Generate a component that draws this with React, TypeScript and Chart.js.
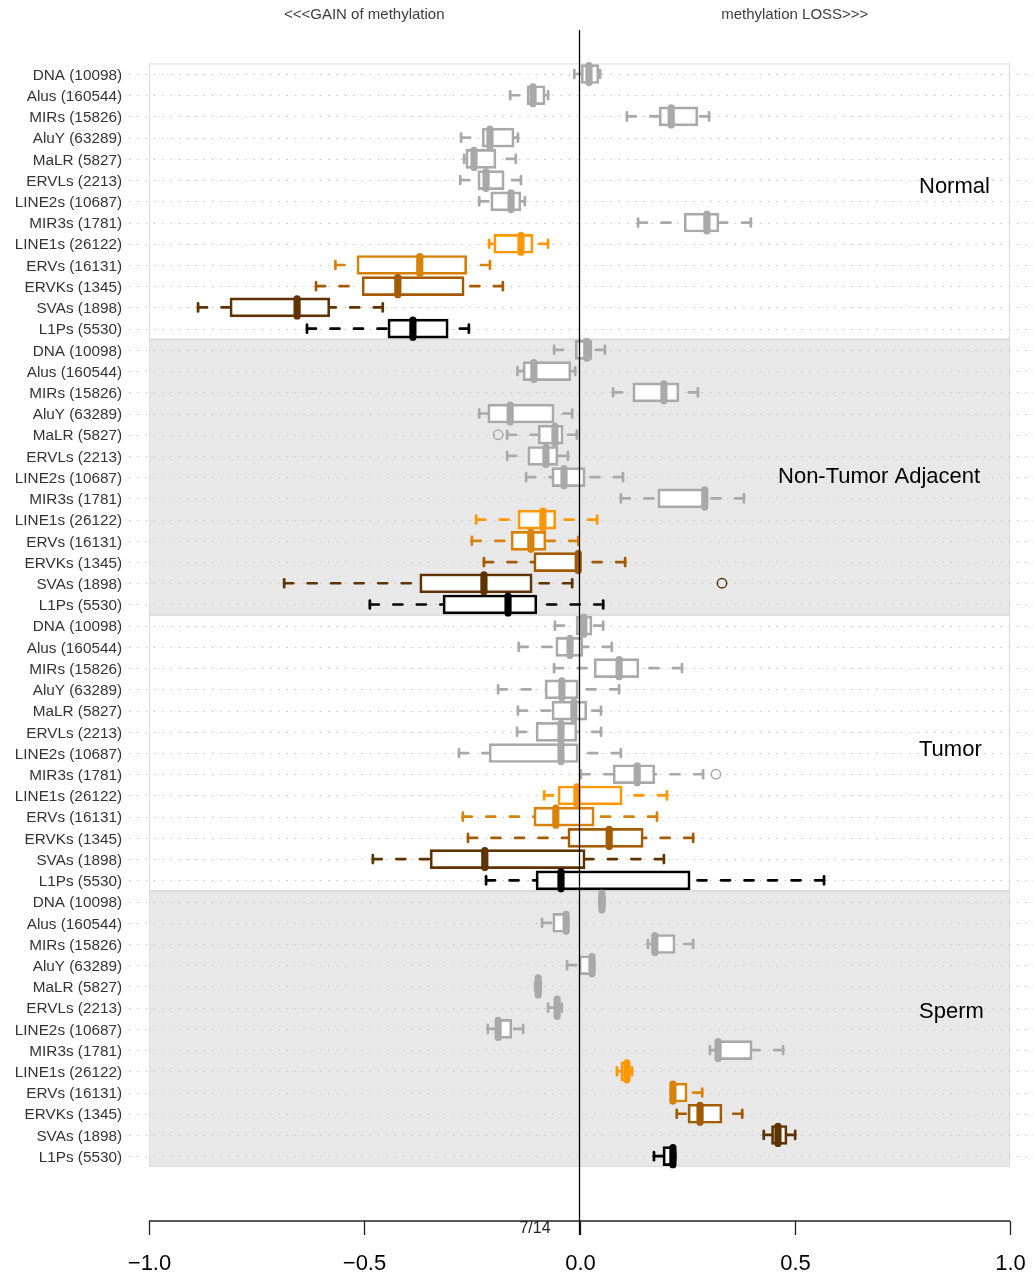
import React, { useEffect, useRef } from 'react';
import { Chart, registerables } from 'chart.js';

Chart.register(...registerables);

// ---------------- DATA ----------------
const categories = [
  'DNA (10098)',
  'Alus (160544)',
  'MIRs (15826)',
  'AluY (63289)',
  'MaLR (5827)',
  'ERVLs (2213)',
  'LINE2s (10687)',
  'MIR3s (1781)',
  'LINE1s (26122)',
  'ERVs (16131)',
  'ERVKs (1345)',
  'SVAs (1898)',
  'L1Ps (5530)',
];

const groups = ['Normal', 'Non-Tumor Adjacent', 'Tumor', 'Sperm'];

// each entry: [min (lower whisker), q1, median, q3, max (upper whisker)]
const normalStats = [
  [-0.012, 0.004, 0.022, 0.045, 0.048],
  [-0.161, -0.122, -0.108, -0.080, -0.073],
  [0.110, 0.185, 0.213, 0.275, 0.301],
  [-0.275, -0.226, -0.208, -0.152, -0.143],
  [-0.268, -0.264, -0.245, -0.194, -0.148],
  [-0.277, -0.236, -0.217, -0.175, -0.136],
  [-0.233, -0.206, -0.159, -0.136, -0.127],
  [0.136, 0.243, 0.296, 0.324, 0.398],
  [-0.210, -0.199, -0.136, -0.108, -0.073],
  [-0.567, -0.517, -0.371, -0.262, -0.208],
  [-0.612, -0.505, -0.422, -0.268, -0.178],
  [-0.886, -0.812, -0.656, -0.580, -0.457],
  [-0.633, -0.445, -0.387, -0.305, -0.257],
];

const nonTumorStats = [
  [-0.059, -0.010, 0.017, 0.029, 0.059],
  [-0.144, -0.131, -0.106, -0.020, -0.010],
  [0.078, 0.124, 0.196, 0.231, 0.275],
  [-0.233, -0.213, -0.161, -0.059, -0.017],
  [-0.168, -0.096, -0.057, -0.038, -0.006],
  [-0.168, -0.120, -0.078, -0.050, -0.027],
  [-0.124, -0.064, -0.036, 0.013, 0.101],
  [0.096, 0.182, 0.291, 0.296, 0.382],
  [-0.240, -0.143, -0.085, -0.055, 0.041],
  [-0.250, -0.159, -0.113, -0.078, -0.003],
  [-0.222, -0.106, -0.003, 0.001, 0.106],
  [-0.686, -0.371, -0.222, -0.110, -0.017],
  [-0.487, -0.317, -0.166, -0.099, 0.055],
];

const tumorStats = [
  [-0.057, -0.008, 0.010, 0.029, 0.055],
  [-0.141, -0.055, -0.022, 0.008, 0.075],
  [-0.059, 0.034, 0.092, 0.138, 0.238],
  [-0.189, -0.080, -0.041, -0.003, 0.092],
  [-0.143, -0.064, -0.013, 0.017, 0.050],
  [-0.145, -0.101, -0.043, -0.006, 0.050],
  [-0.280, -0.210, -0.043, -0.003, 0.096],
  [0.003, 0.078, 0.134, 0.175, 0.287],
  [-0.082, -0.050, -0.006, 0.099, 0.203],
  [-0.271, -0.106, -0.055, 0.034, 0.180],
  [-0.259, -0.027, 0.069, 0.148, 0.264],
  [-0.480, -0.347, -0.220, 0.013, 0.196],
  [-0.217, -0.101, -0.043, 0.257, 0.568],
];

const spermStats = [
  [0.046, 0.049, 0.052, 0.055, 0.058],
  [-0.087, -0.062, -0.031, -0.029, -0.027],
  [0.159, 0.168, 0.175, 0.222, 0.264],
  [-0.029, -0.001, 0.029, 0.031, 0.034],
  [-0.103, -0.099, -0.096, -0.093, -0.090],
  [-0.073, -0.059, -0.052, -0.045, -0.041],
  [-0.213, -0.194, -0.189, -0.157, -0.131],
  [0.303, 0.315, 0.322, 0.401, 0.473],
  [0.087, 0.096, 0.110, 0.117, 0.122],
  [0.213, 0.215, 0.217, 0.250, 0.285],
  [0.226, 0.252, 0.280, 0.331, 0.378],
  [0.428, 0.446, 0.461, 0.482, 0.501],
  [0.173, 0.194, 0.217, 0.220, 0.222],
];

// outliers: [group index, category index, value]
const outliers = [
  [1, 4, -0.189],
  [1, 11, 0.331],
  [2, 7, 0.317],
];

const xTickValues = [-1, -0.5, 0, 0.5, 1];
const xTickLabels = ['\u22121.0', '\u22120.5', '0.0', '0.5', '1.0'];
const leftNote = '<<<GAIN of methylation';
const rightNote = 'methylation LOSS>>>';
const pageNote = '7/14';

// ---------------- STYLE ----------------
const FONT = "'Liberation Sans', Arial, Helvetica, sans-serif";
const GREY = '#a9a9a9';
const categoryColors = [
  GREY, GREY, GREY, GREY, GREY, GREY, GREY, GREY,
  '#ff9800', '#d9820a', '#a35a00', '#5e3300', '#000000',
];
const panelFills = ['#ffffff', '#e8e8e8', '#ffffff', '#e8e8e8'];
// group label anchors: [x in data units (left edge), row position]
const groupLabelAnchors = [
  [0.7886, 5.33],
  [0.4611, 18.99],
  [0.7886, 31.85],
  [0.7886, 44.2],
];

const allStats = [normalStats, nonTumorStats, tumorStats, spermStats];
const nCat = categories.length;
const rowLabels = groups.flatMap(() => categories);
const boxData = allStats.flatMap((stats) => stats.map((s) => [s[1], s[3]]));
const rowColors = groups.flatMap(() => categoryColors);

const boxPlugin = {
  id: 'boxExtras',
  beforeDatasetsDraw(chart: any) {
    const { ctx } = chart;
    const x = chart.scales.x;
    const y = chart.scales.y;
    const left = x.getPixelForValue(-1);
    const right = x.getPixelForValue(1);
    ctx.save();
    groups.forEach((_, g) => {
      const top = y.getPixelForValue(g * nCat - 0.5);
      const bottom = y.getPixelForValue(g * nCat + nCat - 0.5);
      ctx.fillStyle = panelFills[g];
      ctx.fillRect(left, top, right - left, bottom - top);
      ctx.strokeStyle = '#dcdcdc';
      ctx.lineWidth = 1;
      ctx.strokeRect(left + 0.5, top + 0.5, right - left - 1, bottom - top - 1);
    });
    // dotted row guides
    ctx.strokeStyle = '#bebebe';
    ctx.lineWidth = 1;
    ctx.setLineDash([1.3, 7]);
    rowLabels.forEach((_, r) => {
      const cy = Math.round(y.getPixelForValue(r)) + 0.5;
      ctx.beginPath();
      ctx.moveTo(129, cy);
      ctx.lineTo(chart.width, cy);
      ctx.stroke();
    });
    ctx.restore();
  },
  afterDatasetsDraw(chart: any) {
    const { ctx } = chart;
    const x = chart.scales.x;
    const y = chart.scales.y;
    ctx.save();
    ctx.lineCap = 'round';
    allStats.forEach((stats, g) => {
      stats.forEach((s, i) => {
        const cy = y.getPixelForValue(g * nCat + i);
        const [mn, q1, md, q3, mx] = s.map((v) => x.getPixelForValue(v));
        ctx.strokeStyle = categoryColors[i];
        // whiskers (dashed, starting at the whisker ends)
        ctx.lineWidth = 2.7;
        ctx.setLineDash([9, 14.5]);
        if (q1 - mn > 1) {
          ctx.beginPath();
          ctx.moveTo(mn, cy);
          ctx.lineTo(q1, cy);
          ctx.stroke();
        }
        if (mx - q3 > 1) {
          ctx.beginPath();
          ctx.moveTo(mx, cy);
          ctx.lineTo(q3, cy);
          ctx.stroke();
        }
        ctx.setLineDash([]);
        // staples
        ctx.lineWidth = 2.7;
        [mn, mx].forEach((px) => {
          ctx.beginPath();
          ctx.moveTo(px, cy - 4);
          ctx.lineTo(px, cy + 4);
          ctx.stroke();
        });
        // median
        ctx.lineWidth = 7.2;
        ctx.beginPath();
        ctx.moveTo(md, cy - 8.5);
        ctx.lineTo(md, cy + 8.5);
        ctx.stroke();
      });
    });
    // outliers
    ctx.lineWidth = 1.5;
    outliers.forEach(([g, i, v]) => {
      const cy = y.getPixelForValue(g * nCat + i);
      const px = x.getPixelForValue(v);
      ctx.strokeStyle = categoryColors[i];
      ctx.beginPath();
      ctx.arc(px, cy, 4.7, 0, Math.PI * 2);
      ctx.stroke();
    });
    // group labels
    ctx.fillStyle = '#000';
    ctx.font = `22px ${FONT}`;
    ctx.textAlign = 'left';
    ctx.textBaseline = 'middle';
    groups.forEach((name, g) => {
      const [ax, ar] = groupLabelAnchors[g];
      ctx.fillText(name, x.getPixelForValue(ax), y.getPixelForValue(ar));
    });
    ctx.restore();
  },
  afterDraw(chart: any) {
    const { ctx } = chart;
    const x = chart.scales.x;
    const axisY = 1221;
    ctx.save();
    // top notes
    ctx.fillStyle = '#3c3c3c';
    ctx.font = `15px ${FONT}`;
    ctx.textAlign = 'center';
    ctx.textBaseline = 'middle';
    ctx.fillText(leftNote, x.getPixelForValue(-0.5), 15);
    ctx.fillText(rightNote, x.getPixelForValue(0.5), 15);
    // bottom axis
    ctx.strokeStyle = '#222';
    ctx.lineWidth = 1.3;
    ctx.beginPath();
    ctx.moveTo(x.getPixelForValue(-1), axisY);
    ctx.lineTo(x.getPixelForValue(1), axisY);
    ctx.stroke();
    ctx.fillStyle = '#000';
    ctx.font = `22px ${FONT}`;
    xTickValues.forEach((v, k) => {
      const px = Math.round(x.getPixelForValue(v)) + 0.5;
      ctx.beginPath();
      ctx.moveTo(px, axisY);
      ctx.lineTo(px, axisY + 14);
      ctx.stroke();
      ctx.fillText(xTickLabels[k], px, 1264);
    });
    ctx.font = `16px ${FONT}`;
    ctx.fillStyle = '#222';
    ctx.fillText(pageNote, 535, 1229);
    // zero reference line
    const zx = x.getPixelForValue(0);
    ctx.strokeStyle = '#000';
    ctx.lineWidth = 1.3;
    ctx.beginPath();
    ctx.moveTo(zx, 30);
    ctx.lineTo(zx, 1235);
    ctx.stroke();
    ctx.restore();
  },
};

export default function App() {
  const ref = useRef<HTMLCanvasElement>(null);
  useEffect(() => {
    if (!ref.current) return;
    const chart = new Chart(ref.current, {
      type: 'bar',
      data: {
        labels: rowLabels,
        datasets: [
          {
            data: boxData as any,
            backgroundColor: '#ffffff',
            borderColor: rowColors,
            borderWidth: 2.7,
            borderSkipped: false,
            barThickness: 19,
          },
        ],
      },
      options: {
        indexAxis: 'y',
        responsive: false,
        animation: false,
        devicePixelRatio: 1,
        layout: { padding: { top: 63.4, bottom: 111.2, left: 0, right: 24 } },
        scales: {
          x: { type: 'linear', min: -1, max: 1, display: false },
          y: {
            type: 'category',
            offset: true,
            grid: { display: false, drawTicks: false },
            border: { display: false },
            ticks: {
              autoSkip: false,
              padding: 27,
              labelOffset: 1.5,
              color: '#333',
              font: { size: 15.3, family: FONT },
            },
            afterFit: (scale: any) => {
              scale.width = 149;
            },
          },
        },
        plugins: { legend: { display: false }, tooltip: { enabled: false } },
      } as any,
      plugins: [boxPlugin],
    });
    return () => chart.destroy();
  }, []);
  return (
    <div style={{ position: 'absolute', left: 0, top: 0, width: 1034, height: 1278, background: '#fff' }}>
      <canvas ref={ref} width={1034} height={1278} style={{ display: 'block' }} />
    </div>
  );
}
